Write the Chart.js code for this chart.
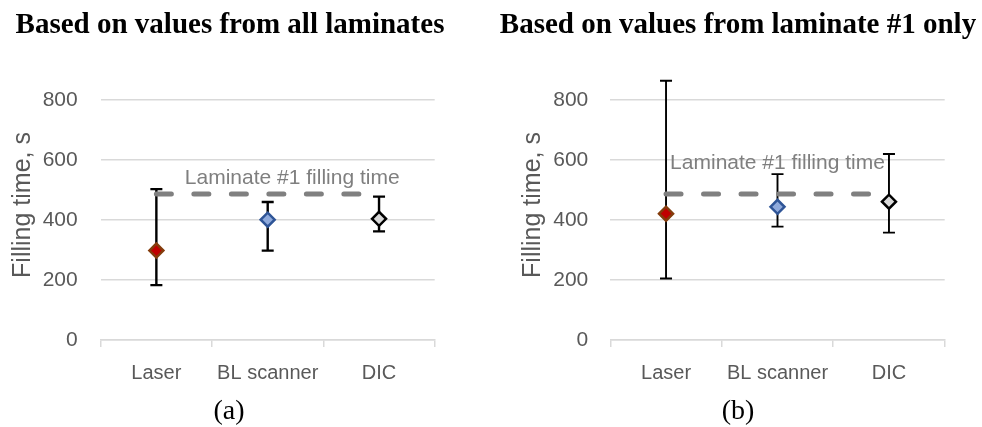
<!DOCTYPE html>
<html>
<head>
<meta charset="utf-8">
<script src="https://cdn.jsdelivr.net/npm/chart.js@4"></script>
<style>
  body { margin: 0; background: #fff; }
  #page { position: relative; width: 982px; height: 427px; overflow: hidden; }
  .panel { position: absolute; top: 0; width: 491px; height: 427px; }
  .title { position: absolute; top: 9px; width: 520px; text-align: center; font: bold 29px "Liberation Serif", serif; line-height: 29px; color: #000; white-space: nowrap; }
  .tag { position: absolute; top: 396px; width: 100px; text-align: center; font: 28px "Liberation Serif", serif; line-height: 28px; color: #000; }
</style>
</head>
<body>
<div id="page">
  <div class="panel" style="left:0"><canvas id="chartA" width="491" height="427"></canvas></div>
  <div class="panel" style="left:491px"><canvas id="chartB" width="491" height="427"></canvas></div>
  <div class="title" style="left:-30px">Based on values from all laminates</div>
  <div class="title" style="left:478px">Based on values from laminate #1 only</div>
  <div class="tag" style="left:179px">(a)</div>
  <div class="tag" style="left:688px">(b)</div>
</div>
<script>
const categories = ["Laser", "BL scanner", "DIC"];

// (a) all laminates
const allMean = [298, 401, 404];
const allLow = [183, 298, 362];
const allHigh = [503, 460, 478];

// (b) laminate #1 only
const lam1Mean = [421, 444, 461];
const lam1Low = [205, 378, 358];
const lam1High = [864, 553, 620];

const laminateFillTime = 487;
const laminateLineX = [0, 1.84]; // dashed line runs from Laser to just short of DIC

const fillColors = ["#c00000", "#8faadc", "#d9d9d9"];
const edgeColors = ["#843c0c", "#2f5597", "#000000"];

// error bars drawn under the markers
const errorBars = {
  id: "errorBars",
  beforeDatasetsDraw(chart, args, opts) {
    const ctx = chart.ctx;
    const x = chart.scales.x, y = chart.scales.y;
    ctx.save();
    ctx.strokeStyle = "#000";
    ctx.lineWidth = opts.width;
    opts.low.forEach((lo, i) => {
      const px = x.getPixelForValue(i);
      const yLo = y.getPixelForValue(lo);
      const yHi = y.getPixelForValue(opts.high[i]);
      ctx.beginPath();
      ctx.moveTo(px, yLo); ctx.lineTo(px, yHi);
      ctx.moveTo(px - 6, yLo); ctx.lineTo(px + 6, yLo);
      ctx.moveTo(px - 6, yHi); ctx.lineTo(px + 6, yHi);
      ctx.stroke();
    });
    ctx.restore();
  }
};

// "Laminate #1 filling time" label
const lineLabel = {
  id: "lineLabel",
  afterDatasetsDraw(chart, args, opts) {
    const ctx = chart.ctx;
    ctx.save();
    ctx.font = '21px "Liberation Sans", Arial, sans-serif';
    ctx.fillStyle = "#7f7f7f";
    ctx.textAlign = "center";
    ctx.textBaseline = "middle";
    ctx.fillText(opts.text, chart.scales.x2.getPixelForValue(opts.at[0]), chart.scales.y.getPixelForValue(opts.at[1]));
    ctx.restore();
  }
};

function makePanel(id, mean, low, high, cfg) {
  return new Chart(document.getElementById(id), {
    type: "line",
    data: {
      labels: categories,
      datasets: [
        {
          label: "Laminate #1 filling time",
          xAxisID: "x2",
          data: laminateLineX.map(v => ({ x: v, y: laminateFillTime })),
          borderColor: "#808080",
          borderWidth: 5,
          borderDash: [15, 22.5],
          borderCapStyle: "round",
          pointRadius: 0,
          order: 2
        },
        {
          label: "Filling time",
          data: mean,
          showLine: false,
          pointStyle: "rectRot",
          pointRadius: 7,
          pointBorderWidth: 2.5,
          pointBackgroundColor: fillColors,
          pointBorderColor: edgeColors,
          order: 1
        }
      ]
    },
    options: {
      responsive: false,
      animation: false,
      layout: { padding: { left: 0, top: 70, right: cfg.padRight, bottom: 0 } },
      scales: {
        x: {
          type: "category",
          offset: true,
          grid: { offset: true, drawOnChartArea: false, tickLength: 7, color: "#d9d9d9", lineWidth: 1.5 },
          border: { display: true, color: "#d9d9d9", width: 1.5 },
          ticks: { color: "#595959", padding: 14, font: { family: "Liberation Sans", size: 20 } },
          afterFit: s => { s.height = 87; }
        },
        x2: { type: "linear", display: false, min: -0.5, max: 2.5 },
        y: {
          min: 0,
          max: 900,
          ticks: { stepSize: 200, color: "#595959", padding: cfg.tickPad, font: { family: "Liberation Sans", size: 21 } },
          afterBuildTicks: s => { s.ticks = s.ticks.filter(t => t.value % 200 === 0); },
          grid: { color: "#d9d9d9", lineWidth: 1.5, drawTicks: false },
          border: { display: false },
          title: { display: true, text: "Filling time, s", color: "#595959", padding: { top: cfg.titlePad, bottom: 0 }, font: { family: "Liberation Sans", size: 25 } },
          afterFit: s => { s.width = cfg.axisWidth; }
        }
      },
      plugins: {
        legend: { display: false },
        tooltip: { enabled: false },
        errorBars: { low: low, high: high, width: cfg.barWidth },
        lineLabel: { text: "Laminate #1 filling time", at: cfg.labelAt }
      }
    },
    plugins: [errorBars, lineLabel]
  });
}

makePanel("chartA", allMean, allLow, allHigh, { padRight: 56.3, axisWidth: 100.7, tickPad: 23, titlePad: 8, barWidth: 2.4, labelAt: [1.22, 540] });
makePanel("chartB", lam1Mean, lam1Low, lam1High, { padRight: 37.3, axisWidth: 119.3, tickPad: 22, titlePad: 27, barWidth: 1.9, labelAt: [1.0, 589] });
</script>
</body>
</html>
